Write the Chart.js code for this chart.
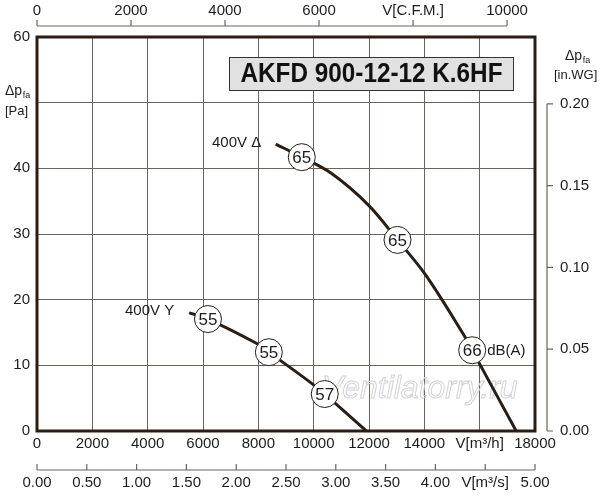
<!DOCTYPE html>
<html>
<head>
<meta charset="utf-8">
<script src="https://cdn.jsdelivr.net/npm/chart.js@4/dist/chart.umd.min.js"></script>
<style>
  html, body { margin: 0; padding: 0; background: #fff; }
  #wrap { width: 600px; height: 500px; }
</style>
</head>
<body>
<div id="wrap"><canvas id="fanChart" width="600" height="500"></canvas></div>
<script>
// 400V delta curve (m3/h, Pa)
const flowDelta = [8630, 9570, 10650, 11980, 13030, 14040, 15400, 15730, 17320];
const pressDelta = [43.7, 41.7, 39.2, 34.4, 29.1, 23.8, 14.8, 12.3, 0];

// 400V star curve
const flowStar = [5500, 6180, 7910, 8380, 9820, 10400, 11910];
const pressStar = [18.0, 17.05, 13.4, 12.0, 7.6, 5.63, 0];

// sound level markers, dB(A)
const markFlow = [9570, 13030, 15730, 6180, 8380, 10400];
const markPress = [41.7, 29.1, 12.3, 17.05, 12.0, 5.63];
const markLabels = ['65', '65', '66', '55', '55', '57'];

// secondary axes
const cfmTicks = [0, 2000, 4000, 6000, 8000, 10000];
const cfmLabels = ['0', '2000', '4000', '6000', 'V[C.F.M.]', '10000'];
const msTicks = [0, 0.5, 1, 1.5, 2, 2.5, 3, 3.5, 4, 4.5, 5];
const msLabels = ['0.00', '0.50', '1.00', '1.50', '2.00', '2.50', '3.00', '3.50', '4.00', 'V[m³/s]', '5.00'];
const wgTicks = [0, 0.05, 0.10, 0.15, 0.20];
const wgLabels = ['0.00', '0.05', '0.10', '0.15', '0.20'];

const CFM_TO_M3H = 1.69901;
const INWG_TO_PA = 249.089;
const INK = '#2a1d13';
const TXT = '#1c1c1c';
const FONT = '"Liberation Sans", Arial, sans-serif';

function toPoints(xs, ys) {
  return xs.map((x, i) => ({ x: x, y: ys[i] }));
}

// draws "Δp" with subscript "fa"
function drawDp(ctx, x, y) {
  ctx.textAlign = 'left';
  ctx.textBaseline = 'middle';
  ctx.font = '14px ' + FONT;
  ctx.fillText('Δp', x, y);
  const w = ctx.measureText('Δp').width;
  ctx.font = '9px ' + FONT;
  ctx.fillText('fa', x + w + 0.5, y + 5);
}

const extraPlugin = {
  id: 'extraPlugin',
  beforeDatasetsDraw(chart) {
    const ctx = chart.ctx;
    const a = chart.chartArea;
    ctx.save();
    ctx.strokeStyle = INK;
    ctx.lineWidth = 3;
    ctx.strokeRect(a.left, a.top, a.right - a.left, a.bottom - a.top);

    // watermark
    ctx.font = 'italic 32px ' + FONT;
    ctx.textAlign = 'left';
    ctx.textBaseline = 'alphabetic';
    ctx.strokeStyle = '#d3d3d3';
    ctx.lineWidth = 1;
    ctx.strokeText('Ventilatorry.ru', 322, 398);
    ctx.restore();
  },
  afterDatasetsDraw(chart) {
    const ctx = chart.ctx;
    const xs = chart.scales.x;
    const ys = chart.scales.y;
    ctx.save();

    // numbers inside the circles
    const meta = chart.getDatasetMeta(2);
    ctx.fillStyle = TXT;
    ctx.font = '17px ' + FONT;
    ctx.textAlign = 'center';
    ctx.textBaseline = 'middle';
    meta.data.forEach((pt, i) => {
      ctx.fillText(markLabels[i], pt.x, pt.y + 1);
    });

    // dB(A) after the last delta marker
    const p66 = meta.data[2];
    ctx.textAlign = 'left';
    ctx.font = '15px ' + FONT;
    ctx.fillText('dB(A)', p66.x + 15, p66.y + 1);

    // curve names
    ctx.fillText('400V Δ', 212, 143);
    ctx.fillText('400V Y', 125, 311);

    // title box
    ctx.fillStyle = '#e1e1e1';
    ctx.fillRect(229, 57, 285, 34);
    ctx.strokeStyle = '#333';
    ctx.lineWidth = 1;
    ctx.strokeRect(229.5, 57.5, 284, 33);
    ctx.save();
    ctx.translate(371.5, 75);
    ctx.scale(0.9, 1);
    ctx.fillStyle = '#111';
    ctx.font = 'bold 27px ' + FONT;
    ctx.textAlign = 'center';
    ctx.textBaseline = 'middle';
    ctx.fillText('AKFD 900-12-12 K.6HF', 0, 0);
    ctx.restore();

    ctx.strokeStyle = '#6d6459';
    ctx.lineWidth = 1.2;
    ctx.fillStyle = TXT;
    ctx.font = '15px ' + FONT;

    // top CFM axis
    const topY = 26;
    ctx.beginPath();
    ctx.moveTo(xs.getPixelForValue(0), topY);
    ctx.lineTo(xs.getPixelForValue(10000 * CFM_TO_M3H), topY);
    cfmTicks.forEach(v => {
      const px = xs.getPixelForValue(v * CFM_TO_M3H);
      ctx.moveTo(px, topY);
      ctx.lineTo(px, topY - 6);
    });
    ctx.stroke();
    ctx.textAlign = 'center';
    ctx.textBaseline = 'middle';
    cfmTicks.forEach((v, i) => {
      ctx.fillText(cfmLabels[i], xs.getPixelForValue(v * CFM_TO_M3H), 11);
    });

    // bottom m3/s axis
    const botY = 470;
    ctx.beginPath();
    ctx.moveTo(xs.getPixelForValue(0), botY);
    ctx.lineTo(xs.getPixelForValue(5 * 3600), botY);
    msTicks.forEach(v => {
      const px = xs.getPixelForValue(v * 3600);
      ctx.moveTo(px, botY);
      ctx.lineTo(px, botY - 6);
    });
    ctx.stroke();
    msTicks.forEach((v, i) => {
      ctx.fillText(msLabels[i], xs.getPixelForValue(v * 3600), 483);
    });

    // right in.WG axis
    const rx = 547;
    ctx.beginPath();
    ctx.moveTo(rx, ys.getPixelForValue(0.2 * INWG_TO_PA));
    ctx.lineTo(rx, ys.getPixelForValue(0));
    wgTicks.forEach(v => {
      const py = ys.getPixelForValue(v * INWG_TO_PA);
      ctx.moveTo(rx, py);
      ctx.lineTo(rx + 6, py);
    });
    ctx.stroke();
    ctx.textAlign = 'left';
    wgTicks.forEach((v, i) => {
      ctx.fillText(wgLabels[i], 560, ys.getPixelForValue(v * INWG_TO_PA));
    });

    // axis headers
    drawDp(ctx, 565, 56);
    ctx.font = '13px ' + FONT;
    ctx.textAlign = 'left';
    ctx.fillText('[in.WG]', 554, 75);
    drawDp(ctx, 5, 91);
    ctx.font = '13px ' + FONT;
    ctx.textAlign = 'left';
    ctx.fillText('[Pa]', 5, 111);

    ctx.restore();
  }
};

new Chart(document.getElementById('fanChart'), {
  type: 'scatter',
  data: {
    datasets: [
      {
        data: toPoints(flowDelta, pressDelta),
        showLine: true,
        borderColor: INK,
        borderWidth: 3,
        pointRadius: 0,
        tension: 0.35,
        order: 2
      },
      {
        data: toPoints(flowStar, pressStar),
        showLine: true,
        borderColor: INK,
        borderWidth: 3,
        pointRadius: 0,
        tension: 0.35,
        order: 2
      },
      {
        data: toPoints(markFlow, markPress),
        showLine: false,
        pointRadius: 13.5,
        pointBackgroundColor: '#fff',
        pointBorderColor: INK,
        pointBorderWidth: 1,
        order: 0
      }
    ]
  },
  options: {
    responsive: false,
    animation: false,
    devicePixelRatio: 1,
    layout: { padding: { top: 37, right: 65, left: 0, bottom: 0 } },
    plugins: {
      legend: { display: false },
      tooltip: { enabled: false }
    },
    scales: {
      x: {
        type: 'linear',
        min: 0,
        max: 18000,
        afterFit: s => { s.height = 69; },
        border: { display: false },
        grid: { color: '#6d6459', lineWidth: 1, drawTicks: false },
        ticks: {
          stepSize: 2000,
          padding: 4,
          color: TXT,
          font: { family: FONT, size: 15 },
          maxRotation: 0,
          callback: v => v === 16000 ? 'V[m³/h]' : String(v)
        }
      },
      y: {
        type: 'linear',
        min: 0,
        max: 60,
        afterFit: s => { s.width = 37; },
        border: { display: false },
        grid: { color: '#6d6459', lineWidth: 1, drawTicks: false },
        ticks: {
          stepSize: 10,
          padding: 7,
          color: TXT,
          font: { family: FONT, size: 15 },
          callback: v => v === 50 ? '' : String(v)
        }
      }
    }
  },
  plugins: [extraPlugin]
});
</script>
</body>
</html>
